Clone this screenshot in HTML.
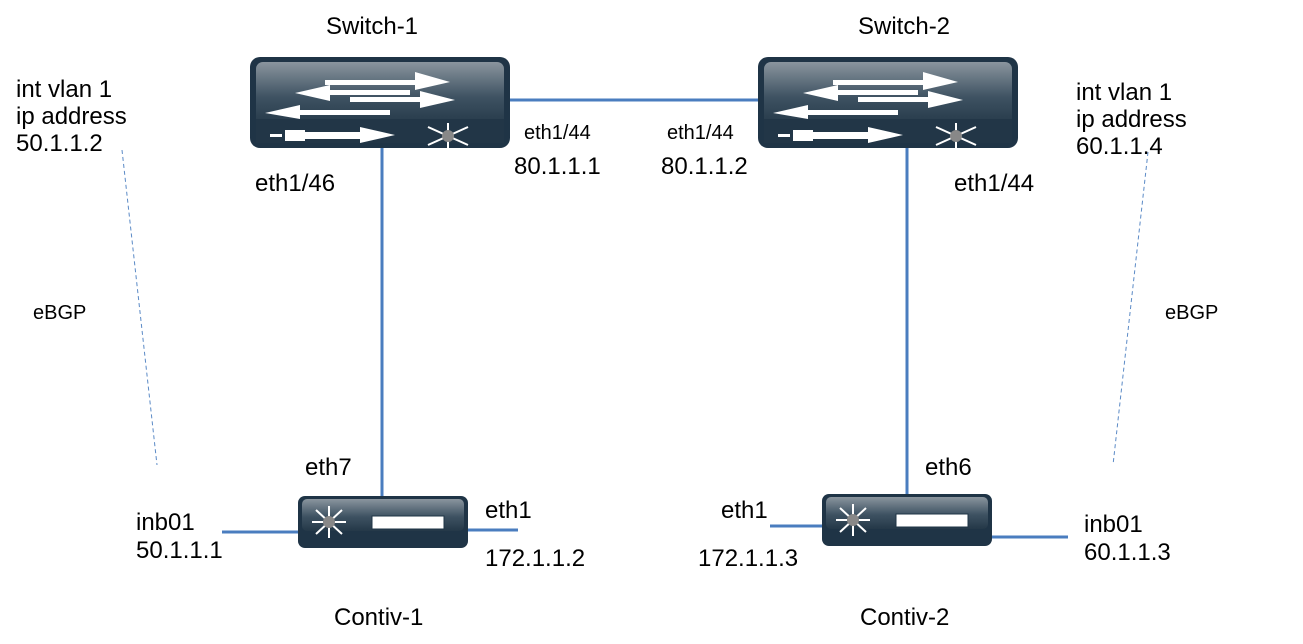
<!DOCTYPE html>
<html><head><meta charset="utf-8"><style>
body{margin:0;background:#fff;}
svg text{font-family:"Liberation Sans",Arial,sans-serif;fill:#000;}
</style></head><body>
<svg width="1303" height="639" viewBox="0 0 1303 639" xmlns="http://www.w3.org/2000/svg">
<defs>
<linearGradient id="g1" x1="0" y1="0" x2="0" y2="1">
<stop offset="0" stop-color="#8a959e"/><stop offset="0.55" stop-color="#3e5262"/><stop offset="1" stop-color="#243848"/>
</linearGradient>
<g id="sw">
<rect x="0" y="0" width="260" height="91" rx="10" fill="#1f3446"/>
<rect x="6" y="5" width="248" height="64" rx="7" fill="url(#g1)"/>
<rect x="6" y="62" width="248" height="24" fill="#223647"/>
<g fill="#fff">
<rect x="75" y="23" width="95" height="5"/><polygon points="165,15 200,25 165,33"/>
<rect x="65" y="33" width="95" height="5"/><polygon points="80,28 45,36 80,44"/>
<rect x="50" y="53" width="90" height="5"/><polygon points="50,48 15,56 50,62"/>
<rect x="100" y="40" width="75" height="5"/><polygon points="170,34 205,43 170,51"/>
<rect x="20" y="77" width="12" height="3"/><rect x="35" y="73" width="20" height="11"/><rect x="55" y="75" width="60" height="7"/><polygon points="110,70 145,78 110,86"/>
</g>
<g stroke="#fff" stroke-width="2" fill="none">
<path d="M178,70 L218,88 M178,88 L218,70 M198,66 L198,92"/>
</g>
<circle cx="198" cy="79" r="6" fill="#888"/>
</g>
<g id="ct">
<rect x="0" y="0" width="170" height="52" rx="7" fill="#1f3446"/>
<rect x="4" y="3" width="162" height="32" rx="5" fill="url(#g1)"/>
<g stroke="#fff" stroke-width="2" fill="none"><path d="M18,14 L44,38 M18,38 L44,14 M31,10 L31,42 M14,26 L48,26"/></g>
<circle cx="31" cy="26" r="6" fill="#888"/>
<rect x="74" y="20" width="72" height="13" fill="#fff" stroke="#1f3446" stroke-width="1"/>
</g>
</defs>
<g stroke="#4a7dbf" stroke-width="3">
<line x1="505" y1="100" x2="762" y2="100"/>
<line x1="382" y1="145" x2="382" y2="498"/>
<line x1="907" y1="145" x2="907" y2="498"/>
<line x1="222" y1="532" x2="300" y2="532"/>
<line x1="466" y1="530" x2="518" y2="530"/>
<line x1="770" y1="526" x2="824" y2="526"/>
<line x1="990" y1="537" x2="1068" y2="537"/>
</g>
<g stroke="#5b8ac6" stroke-width="1" stroke-dasharray="4,3">
<line x1="122" y1="150" x2="157" y2="465"/>
<line x1="1148" y1="152" x2="1113" y2="465"/>
</g>
<use href="#sw" x="250" y="57"/>
<use href="#sw" x="758" y="57"/>
<use href="#ct" x="298" y="496"/>
<use href="#ct" x="822" y="494"/>
<g font-size="24">
<text x="326" y="34">Switch-1</text>
<text x="858" y="34">Switch-2</text>
<text x="16" y="97">int vlan 1</text>
<text x="16" y="124">ip address</text>
<text x="16" y="151">50.1.1.2</text>
<text x="1076" y="100">int vlan 1</text>
<text x="1076" y="127">ip address</text>
<text x="1076" y="154">60.1.1.4</text>
<text x="255" y="191">eth1/46</text>
<text x="514" y="174">80.1.1.1</text>
<text x="661" y="174">80.1.1.2</text>
<text x="954" y="191">eth1/44</text>
<text x="305" y="475">eth7</text>
<text x="925" y="475">eth6</text>
<text x="136" y="530">inb01</text>
<text x="136" y="558">50.1.1.1</text>
<text x="485" y="518">eth1</text>
<text x="485" y="566">172.1.1.2</text>
<text x="721" y="518">eth1</text>
<text x="698" y="566">172.1.1.3</text>
<text x="1084" y="532">inb01</text>
<text x="1084" y="560">60.1.1.3</text>
<text x="334" y="625">Contiv-1</text>
<text x="860" y="625">Contiv-2</text>
</g>
<g font-size="20">
<text x="524" y="139">eth1/44</text>
<text x="667" y="139">eth1/44</text>
<text x="33" y="319">eBGP</text>
<text x="1165" y="319">eBGP</text>
</g>
</svg>
</body></html>
